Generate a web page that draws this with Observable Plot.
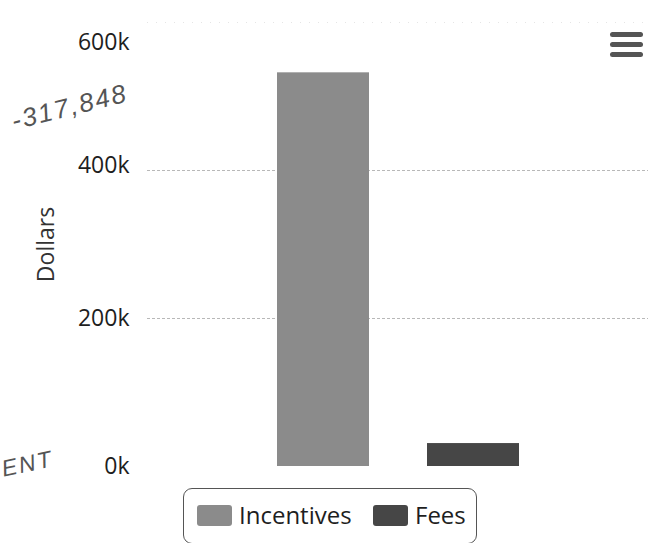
<!DOCTYPE html>
<html><head><meta charset="utf-8">
<script src="https://cdn.jsdelivr.net/npm/d3@7"></script>
<script src="https://cdn.jsdelivr.net/npm/@observablehq/plot@0.6"></script>
<style>
body{margin:0;background:#fff;font-family:"Open Sans",sans-serif;}
#wrap{position:relative;width:648px;height:543px;overflow:hidden;background:#fff;}
#chart svg{display:block;}
.legend{position:absolute;left:183px;top:488px;width:294px;height:56px;border:1.5px solid #555;border-radius:9px;box-sizing:border-box;}
.item{position:absolute;top:11px;display:flex;align-items:center;font-size:24px;color:#1e1e1e;line-height:30px;}
.sw{display:inline-block;width:35px;height:21px;border-radius:3px;margin-right:7px;}
.hand{position:absolute;font-family:"Liberation Sans",sans-serif;font-style:italic;color:#555;white-space:nowrap;letter-spacing:2px;}
.menu{position:absolute;left:608px;top:30px;}
</style></head><body><div id="wrap"><div id="chart"></div></div>
<script>
const categories = ["Incentives", "Fees"];
const values = [532000, 31000];
const colors = ["#8b8b8b", "#464646"];
const yTicks = [0, 200000, 400000, 600000];
const yLabel = "Dollars";
const annotations = ["-317,848", "ENT"];

const data = categories.map((c, i) => ({category: c, value: values[i]}));
const fmt = d => (d / 1000) + "k";
const axisOpts = {tickSize: 0, tickPadding: 18, tickFormat: fmt, label: null, fontSize: 23, fill: "#1e1e1e"};

const chart = Plot.plot({
  width: 648, height: 484,
  marginLeft: 147, marginRight: 0, marginTop: 22, marginBottom: 18,
  style: {fontFamily: "Open Sans", fontSize: "23px", color: "#222", background: "white"},
  x: {domain: categories, paddingInner: 0.39, paddingOuter: 0.86, axis: null},
  y: {domain: [0, 600000], axis: null},
  color: {domain: categories, range: colors},
  marks: [
    Plot.gridY(yTicks.slice(1, 3), {stroke: "#888", strokeOpacity: 0.6, strokeDasharray: "3,2"}),
    Plot.gridY(yTicks.slice(3), {stroke: "#aaa", strokeOpacity: 0.3, strokeDasharray: "1,8"}),
    Plot.barY(data, {x: "category", y: "value", fill: "category"}),
    Plot.axisY(yTicks.slice(0, 2), axisOpts),
    Plot.axisY(yTicks.slice(2, 3), {...axisOpts, dy: -5}),
    Plot.axisY(yTicks.slice(3), {...axisOpts, dy: 20}),
    Plot.text([yLabel], {text: d => d, frameAnchor: "left", textAnchor: "middle", rotate: -90, dx: -101, fontSize: 23, fill: "#333"})
  ]
});
document.getElementById("chart").appendChild(chart);

const wrap = document.getElementById("wrap");
// legend
const legend = document.createElement("div");
legend.className = "legend";
const lefts = [13, 189];
categories.forEach((c, i) => {
  const it = document.createElement("div");
  it.className = "item";
  it.style.left = lefts[i] + "px";
  const sw = document.createElement("span");
  sw.className = "sw";
  sw.style.background = colors[i];
  it.appendChild(sw);
  it.appendChild(document.createTextNode(c));
  legend.appendChild(it);
});
wrap.appendChild(legend);

// menu icon
const menu = document.createElementNS("http://www.w3.org/2000/svg", "svg");
menu.setAttribute("class", "menu");
menu.setAttribute("width", "38"); menu.setAttribute("height", "30");
menu.innerHTML = [0, 10, 20].map(y => `<rect x="2" y="${y + 2}" width="33" height="5" rx="2.5" fill="#555"/>`).join("");
wrap.appendChild(menu);

// handwritten annotations on the scan
const h1 = document.createElement("div");
h1.className = "hand"; h1.textContent = annotations[0];
h1.style.cssText += "left:12px;top:106px;font-size:26px;transform:rotate(-14deg);transform-origin:left center;";
wrap.appendChild(h1);
const h2 = document.createElement("div");
h2.className = "hand"; h2.textContent = annotations[1];
h2.style.cssText += "left:2px;top:456px;font-size:23px;transform:rotate(-12deg);transform-origin:left center;";
wrap.appendChild(h2);
</script></body></html>
